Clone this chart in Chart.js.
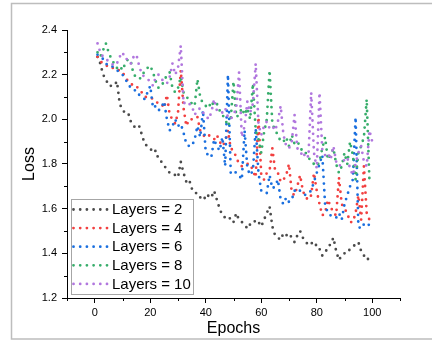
<!DOCTYPE html>
<html>
<head>
<meta charset="utf-8">
<script src="https://cdn.jsdelivr.net/npm/chart.js@4/dist/chart.umd.min.js"></script>
<style>
  html, body { margin: 0; padding: 0; background: #fff; }
  canvas { display: block; }
</style>
</head>
<body>
<canvas id="c" width="432" height="341"></canvas>
<script>
// Training epochs (x axis)
const epochs = [
  1,2,3,4,5,6,7,8,9,10,11,12,13,14,15,16,17,18,19,20,
  21,22,23,24,25,26,27,28,29,30,31,32,33,34,35,36,37,38,39,40,
  41,42,43,44,45,46,47,48,49,50,51,52,53,54,55,56,57,58,59,60,
  61,62,63,64,65,66,67,68,69,70,71,72,73,74,75,76,77,78,79,80,
  81,82,83,84,85,86,87,88,89,90,91,92,93,94,95,96,97,98,99,100
];

// Loss per epoch, one array per network depth
const lossLayers2 = [
  2.28,2.25,2.20,2.18,2.15,2.15,2.15,2.17,2.07,2.04,
  2.03,2.03,1.99,1.97,1.96,1.97,1.93,1.89,1.88,1.87,
  1.85,1.86,1.82,1.81,1.79,1.78,1.76,1.76,1.75,1.74,
  1.81,1.76,1.72,1.73,1.69,1.67,1.67,1.65,1.66,1.64,
  1.66,1.65,1.68,1.64,1.60,1.57,1.56,1.55,1.56,1.54,
  1.58,1.55,1.54,1.53,1.51,1.53,1.53,1.55,1.54,1.52,
  1.55,1.58,1.61,1.52,1.48,1.47,1.46,1.49,1.48,1.49,
  1.47,1.45,1.48,1.50,1.47,1.45,1.44,1.45,1.43,1.44,
  1.42,1.39,1.40,1.43,1.44,1.47,1.41,1.37,1.39,1.40,
  1.40,1.42,1.43,1.44,1.45,1.41,1.39,1.37,1.38,1.38
];
const lossLayers4 = [
  2.28,2.26,2.25,2.24,2.24,2.23,2.23,2.22,2.22,2.21,
  2.19,2.17,2.16,2.15,2.15,2.13,2.12,2.10,2.10,2.10,
  2.09,2.08,2.07,2.07,2.05,2.11,2.02,2.00,1.98,2.03,
  2.22,2.05,1.97,2.00,2.00,2.01,2.01,1.95,1.93,1.92,
  1.93,1.92,1.91,1.93,1.90,1.88,1.90,1.95,1.87,1.86,
  1.83,1.80,1.79,1.79,1.80,1.80,1.77,1.74,2.01,1.75,
  1.73,1.76,1.77,1.87,1.77,1.76,1.72,1.73,1.75,1.80,
  1.67,1.66,1.70,1.75,1.68,1.65,1.64,1.66,1.76,1.68,
  1.62,1.57,1.58,1.64,1.61,1.58,1.57,1.74,1.62,1.60,
  1.58,1.54,1.54,1.58,1.66,1.55,1.79,1.58,1.55,1.54
];
const lossLayers6 = [
  2.29,2.28,2.27,2.25,2.24,2.24,2.23,2.22,2.21,2.20,
  2.18,2.16,2.14,2.13,2.13,2.11,2.10,2.09,2.12,2.15,
  2.05,2.06,2.04,2.05,2.08,2.00,1.95,1.97,2.00,1.97,
  1.98,1.94,1.89,1.88,1.88,1.91,1.97,1.92,2.04,1.85,
  1.84,1.83,1.91,1.88,1.86,1.92,1.79,2.20,1.76,1.77,
  1.76,1.75,1.73,1.95,1.78,1.75,1.77,1.96,1.76,1.68,
  1.68,1.67,1.75,1.69,1.70,1.73,1.64,1.62,1.65,1.63,
  1.64,1.68,1.69,1.68,1.67,1.66,1.67,1.68,1.72,1.76,
  1.80,1.84,1.62,1.58,1.57,1.57,1.56,1.58,1.55,1.62,
  1.66,1.70,1.73,2.01,1.52,1.51,1.53,1.52,1.53,1.53
];
const lossLayers8 = [
  2.30,2.28,2.31,2.34,2.30,2.27,2.25,2.23,2.24,2.22,
  2.25,2.27,2.26,2.20,2.19,2.18,2.19,2.22,2.23,2.24,
  2.21,2.17,2.14,2.15,2.17,2.20,2.21,2.14,2.12,2.14,
  2.19,2.12,2.10,2.09,2.07,2.06,2.18,2.10,2.07,2.06,
  2.05,2.08,2.06,2.07,2.04,2.02,2.00,1.97,2.00,2.17,
  2.01,2.02,2.05,2.02,2.05,2.00,2.16,1.95,1.91,1.85,
  1.94,2.00,2.22,1.98,1.95,1.93,1.90,1.90,1.92,1.88,
  1.93,1.89,1.90,1.88,1.85,1.85,1.83,1.81,1.80,1.79,
  1.81,1.87,1.92,1.82,1.84,1.87,1.80,1.76,1.79,1.85,
  1.80,1.90,1.84,1.73,1.85,1.88,1.92,2.09,1.72,1.72
];
const lossLayers10 = [
  2.34,2.30,2.28,2.27,2.26,2.25,2.24,2.25,2.28,2.30,
  2.27,2.27,2.25,2.28,2.29,2.24,2.20,2.19,2.18,2.17,
  2.15,2.19,2.20,2.18,2.17,2.16,2.19,2.25,2.20,2.23,
  2.33,2.07,2.08,2.07,2.06,2.02,2.04,2.05,2.03,2.02,
  2.00,2.03,2.09,2.04,2.04,2.03,2.05,2.01,2.00,2.02,
  2.05,2.21,1.92,1.97,2.08,2.03,2.07,2.25,1.98,1.93,
  1.97,1.99,1.96,1.97,1.95,1.99,2.06,1.93,1.88,1.87,
  1.90,2.02,1.87,1.86,1.83,1.85,1.83,2.12,1.85,1.78,
  2.12,1.86,1.84,1.85,1.82,1.88,1.81,1.79,1.80,1.82,
  1.83,1.78,1.75,1.80,1.85,1.88,1.81,1.79,1.95,1.90
];

const seriesLabels = ['Layers = 2', 'Layers = 4', 'Layers = 6', 'Layers = 8', 'Layers = 10'];
const seriesValues = [lossLayers2, lossLayers4, lossLayers6, lossLayers8, lossLayers10];
const seriesColors = ['#4b4b4b', '#f24040', '#1a6fdf', '#37ad6b', '#b177de'];

// Axis ticks: labelled majors and unlabelled minors
const xMajorTicks = [0, 20, 40, 60, 80, 100];
const xMinorTicks = [-10, 10, 30, 50, 70, 90, 110];
const yMajorTicks = [1.2, 1.4, 1.6, 1.8, 2.0, 2.2, 2.4];
const yMinorTicks = [1.3, 1.5, 1.7, 1.9, 2.1, 2.3];

const FONT = "'Liberation Sans', Arial, sans-serif";
const DOT_GAP = 6.7;
const DOT_SIZE = 2.8;

const datasets = seriesValues.map((vals, i) => ({
  label: seriesLabels[i],
  data: epochs.map((e, k) => ({ x: e, y: vals[k] })),
  borderColor: seriesColors[i],
  backgroundColor: seriesColors[i],
  borderWidth: DOT_SIZE,
  borderDash: [0, DOT_GAP],
  borderCapStyle: 'round',
  borderJoinStyle: 'round',
  pointRadius: 0,
  tension: 0,
  fill: false,
  order: seriesValues.length - i
}));

// Grey outer frame
const framePlugin = {
  id: 'frame',
  beforeDraw(chart) {
    const ctx = chart.ctx;
    ctx.save();
    ctx.fillStyle = '#fff';
    ctx.fillRect(0, 0, chart.width, chart.height);
    ctx.strokeStyle = '#bdbdbd';
    ctx.lineWidth = 1.5;
    ctx.strokeRect(11.5, 3.5, 440, 335.5);
    ctx.restore();
  }
};

// Short unlabelled minor tick marks
const minorTickPlugin = {
  id: 'minorTicks',
  afterDraw(chart) {
    const ctx = chart.ctx;
    const xs = chart.scales.x, ys = chart.scales.y;
    const len = 3;
    ctx.save();
    ctx.strokeStyle = '#000';
    ctx.lineWidth = 1;
    ctx.beginPath();
    xMinorTicks.forEach(v => {
      const px = Math.round(xs.getPixelForValue(v)) + 0.5;
      ctx.moveTo(px, xs.top);
      ctx.lineTo(px, xs.top + len);
    });
    yMinorTicks.forEach(v => {
      const py = Math.round(ys.getPixelForValue(v)) + 0.5;
      ctx.moveTo(ys.right, py);
      ctx.lineTo(ys.right - len, py);
    });
    ctx.stroke();
    ctx.restore();
  }
};

// Boxed legend in the lower-left corner of the plot
const boxLegendPlugin = {
  id: 'boxLegend',
  afterDatasetsDraw(chart) {
    const ctx = chart.ctx;
    const box = { x: 71.5, y: 199.5, w: 122, h: 95 };
    ctx.save();
    ctx.fillStyle = '#fff';
    ctx.fillRect(box.x, box.y, box.w, box.h);
    ctx.strokeStyle = '#a6a6a6';
    ctx.lineWidth = 1;
    ctx.strokeRect(box.x, box.y, box.w, box.h);
    const rowY0 = 209.5, rowStep = 18.6;
    chart.data.datasets.forEach((ds, i) => {
      const y = rowY0 + i * rowStep;
      ctx.strokeStyle = ds.borderColor;
      ctx.lineWidth = DOT_SIZE;
      ctx.lineCap = 'round';
      ctx.setLineDash([0, DOT_GAP]);
      ctx.beginPath();
      ctx.moveTo(73.5, y);
      ctx.lineTo(107.5, y);
      ctx.stroke();
      ctx.setLineDash([]);
      ctx.fillStyle = '#000';
      ctx.font = '15px ' + FONT;
      ctx.textBaseline = 'middle';
      ctx.textAlign = 'left';
      ctx.fillText(ds.label, 112, y + 0.5);
    });
    ctx.restore();
  }
};

new Chart(document.getElementById('c'), {
  type: 'line',
  data: { datasets },
  options: {
    responsive: false,
    animation: false,
    events: [],
    layout: { padding: { left: 0, right: 32, top: 30, bottom: 0 } },
    plugins: {
      legend: { display: false },
      tooltip: { enabled: false }
    },
    scales: {
      x: {
        type: 'linear',
        min: -10,
        max: 110,
        afterBuildTicks(scale) { scale.ticks = xMajorTicks.map(v => ({ value: v })); },
        afterFit(scale) { scale.height = 43; },
        ticks: {
          color: '#000',
          font: { family: FONT, size: 11 },
          padding: 3,
          maxRotation: 0,
          autoSkip: false
        },
        grid: {
          display: true,
          drawOnChartArea: false,
          drawTicks: true,
          tickLength: 5,
          tickColor: '#000',
          tickWidth: 1
        },
        border: { display: true, color: '#000', width: 1 },
        title: {
          display: true,
          text: 'Epochs',
          color: '#000',
          font: { family: FONT, size: 16 },
          padding: { top: 0, bottom: 3 }
        }
      },
      y: {
        type: 'linear',
        min: 1.2,
        max: 2.4,
        afterBuildTicks(scale) { scale.ticks = yMajorTicks.map(v => ({ value: v })); },
        afterFit(scale) { scale.width = 67; },
        ticks: {
          color: '#000',
          font: { family: FONT, size: 11 },
          padding: 5,
          autoSkip: false,
          callback: v => Number(v).toFixed(1)
        },
        grid: {
          display: true,
          drawOnChartArea: false,
          drawTicks: true,
          tickLength: 5,
          tickColor: '#000',
          tickWidth: 1
        },
        border: { display: true, color: '#000', width: 1 },
        title: {
          display: true,
          text: 'Loss',
          color: '#000',
          font: { family: FONT, size: 16 },
          padding: { top: 20, bottom: 0 }
        }
      }
    }
  },
  plugins: [framePlugin, minorTickPlugin, boxLegendPlugin]
});
</script>
</body>
</html>
